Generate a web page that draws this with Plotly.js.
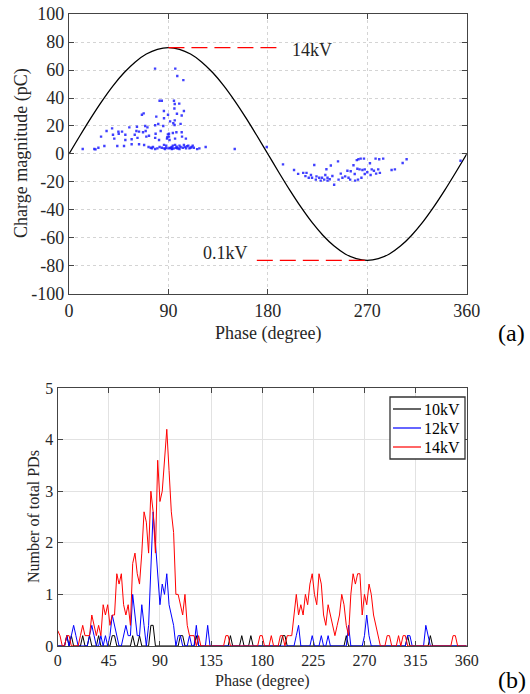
<!DOCTYPE html>
<html>
<head>
<meta charset="utf-8">
<script src="https://cdn.plot.ly/plotly-3.0.1.min.js"></script>
<style>html,body{margin:0;padding:0;background:#fff;}#chart{width:530px;height:694px;}</style>
</head>
<body>
<div id="chart"></div>
<script>
// ---------- (a) PRPD scatter ----------
var pdPhase = [12.4,22.9,24,26.6,29,32,34,39,39.8,41,43.7,44.7,45,48,49.8,51,51,54.6,56.7,56.7,59.5,61,61.5,62,63.4,63.4,66,67,67.6,68,69,69.4,70,71,72.4,74,76,77.9,78,78,78.4,79,80,80.8,81.5,82,83,84,84,85.3,85.9,86,86,88,89,89.6,90,90.5,90.5,91,91.5,92,93,94,94.4,95,95,95.4,95.6,95.7,95.7,96,96.2,97,97.2,97.7,98,99,99.8,100,101,102,102,102.3,103,103.5,104,105,105.8,107,109,111,113,116,118,123.7,150,179,72,75,78,82,86,87,88,93,94,96,98,100,101,104,106,108,110,112,88.7,89.5,91.5,93.5,97.5,
  193.7,203.7,207.4,212,214,215,217,220,222,223.4,226.5,227.8,231,233,234,234,237,238.4,240,243.5,244,247.5,253,254.5,255,257.5,258.6,260.5,261,261.6,262,263,264,264.7,265.6,267,267.7,267.7,272.4,274,277.5,279.9,280.8,281.4,284.4,292,295,302,305.6,354.4,219,224,229,232,236,246,250,252,259,270,273,276,278];
var pdCharge = [3.6,3.6,3.3,4.5,12.4,5.7,16.4,18.3,13.8,11,5.7,16,14.5,16,5.7,13.8,10,19,10.5,7,13.8,16.4,19.5,11.5,16,7,28,15.5,29,6.4,20,16.4,12.4,19,13,4.5,5,61,20.5,11.5,14.5,26.7,4,21.4,10,38,16.4,38,4.5,20,30.7,25.5,4,6,12,28,4,14.5,12.4,10,23.3,4.5,5,15,22,38,4,32.5,20.7,24,35.7,11,61,4.5,15.5,28.8,55.7,4,36,6,21.5,27.5,15.5,12.4,4.5,52.8,30.7,5,11,5.5,4,5,4.5,3.5,4,5,3.6,5,5,4,3.6,5,6.5,3.6,4.5,3.6,6,6.5,4,3.6,5,6.5,4,6,4.5,6,11,14,4.2,3.8,5.2,
  -7.4,-11.4,-14.2,-13.5,-15.8,-13.5,-17,-17,-7.9,-18.3,-17,-19,-18.3,-10.9,-19,-17,-8.2,-15.7,-22,-5.3,-18.3,-17,-17,-18.3,-12.3,-8,-14.3,-4.4,-10.5,-18.3,-3.7,-11,-3.3,-17,-11.4,-3.3,-11,-14.3,-6.6,-11,-3.3,-11,-3.7,-13.5,-3.3,-11.4,-11,-6.4,-3.8,-4.8,-15,-16,-17,-15,-18,-14,-16,-12,-19,-13,-15,-12,-14];

// applied voltage waveform
var wavePhase = [0,10,20,30,40,50,60,70,80,90,100,110,120,130,140,150,160,170,180,190,200,210,220,230,240,250,260,270,280,290,300,310,320,330,340,350,360];
var waveCharge = [0,13.2,26,38,48.9,58.2,65.8,71.4,74.8,76,74.8,71.4,65.8,58.2,48.9,38,26,13.2,0,-13.2,-26,-38,-48.9,-58.2,-65.8,-71.4,-74.8,-76,-74.8,-71.4,-65.8,-58.2,-48.9,-38,-26,-13.2,0];

// dashed reference levels
var peakLinePhase = [90,192];
var peakLineCharge = [76,76];
var troughLinePhase = [170,270];
var troughLineCharge = [-76,-76];

// tick labels
var phaseTicksA = [0, 90, 180, 270, 360];
var chargeTicks = [-100, -80, -60, -40, -20, 0, 20, 40, 60, 80, 100];
var chargeTickText = ['-100', '-80', '-60', '-40', '-20', '0', '20', '40', '60', '80', '100'];
var phaseTicksB = [0, 45, 90, 135, 180, 225, 270, 315, 360];
var countTicks = [0, 1, 2, 3, 4, 5];

// ---------- (b) PD count vs phase ----------
var binPhase = [];
for (var p = 0; p <= 360; p += 2) binPhase.push(p);

var pd10kV = [
0,0,0,0,0.2,0,0.2,0,0,0,      // 0-18
0,0.2,0,0,0.2,0,0,0,0.2,0,    // 20-38
0,0,0,0,0.2,0.2,0,0,0,0,      // 40-58
0,0,0,0.2,0,0,0.2,0,0,0,      // 60-78
0,0.4,0.4,0,0,0,0,0,0,0,      // 80-98
0,0,0,0,0.2,0.2,0,0,0,0,      // 100-118
0,0.2,0,0,0,0,0,0,0,0,        // 120-138
0,0,0,0,0,0,0.2,0,0,0,        // 140-158
0,0.2,0,0,0,0.2,0,0,0,0,      // 160-178
0,0,0,0,0,0,0,0,0,0.2,        // 180-198
0.2,0,0,0,0,0,0,0,0,0,        // 200-218
0,0,0,0,0,0,0,0,0,0,          // 220-238
0,0,0,0,0,0,0,0.2,0,0,        // 240-258
0,0,0,0,0,0,0,0,0,0,          // 260-278
0,0,0,0,0,0,0,0,0,0,          // 280-298
0,0,0,0,0.2,0,0,0,0,0,        // 300-318
0,0,0,0,0.2,0,0,0,0,0,        // 320-338
0,0,0,0,0,0,0,0,0,0,          // 340-358
0];
var pd12kV = [
0,0,0,0,0.2,0,0.2,0.4,0.2,0,  // 0-18
0,0,0,0,0.2,0.4,0.2,0,0,0.2,  // 20-38
0,0.2,0,0.2,0.6,0.4,0.2,0,0,0.2, // 40-58
0.4,0.2,0.2,1.0,0.6,0.2,0.2,0.8,0.4,0, // 60-78
0.4,1.6,2.6,2.0,1.4,0.8,1.2,1.0,1.4,0.8, // 80-98
0.6,0.4,0,0.2,0.2,0,0,0,0.2,0,  // 100-118
0,0.4,0,0,0,0,0.4,0,0,0,      // 120-138
0,0,0,0,0,0,0,0,0,0,          // 140-158
0,0,0,0,0,0,0,0,0,0,          // 160-178
0,0,0,0,0,0,0,0,0,0,          // 180-198
0,0,0,0,0,0.2,0.4,0,0,0,      // 200-218
0,0,0.2,0,0,0,0.2,0,0,0.2,    // 220-238
0,0,0,0,0,0,0,0,0.4,0,        // 240-258
0,0,0,0,0,0.2,0.6,0.2,0,0,    // 260-278
0,0,0,0,0,0,0,0,0,0,          // 280-298
0,0,0,0,0.2,0.2,0,0,0,0,      // 300-318
0,0,0.4,0.2,0,0,0,0,0,0,      // 320-338
0,0,0,0,0,0,0,0,0,0,          // 340-358
0];
var pd14kV = [
0.3,0.2,0,0,0.2,0.2,0,0,0,0,  // 0-18
0.2,0.4,0.2,0.2,0.2,0.6,0.4,0.2,0.4,0.2, // 20-38
0.8,0.6,0.8,0.4,0.6,0.6,1.4,1.2,1.4,0.8, // 40-58
0.6,0.8,0.4,1.6,1.8,1.4,1.2,1.8,2.6,2.4, // 60-78
1.8,3.0,2.6,1.8,3.6,2.8,3.0,3.6,4.2,3.4, // 80-98
2.6,2.2,1.0,1.0,0.8,0.6,1.0,0.4,0.2,0.2, // 100-118
0.2,0,0.2,0,0,0,0,0,0,0,      // 120-138
0,0,0,0,0.2,0.2,0,0,0,0,      // 140-158
0,0,0,0,0,0,0,0,0,0.2,        // 160-178
0.2,0,0,0,0.2,0,0,0,0.2,0.2,  // 180-198
0,0.2,0.2,0.2,0.6,1.0,0.6,0.8,0.6,1.0, // 200-218
0.8,1.2,1.4,1.0,0.8,1.4,1.2,0.6,0.4,0.8, // 220-238
0.6,0.4,0.2,0.4,0.6,1.0,0.8,0.4,0.2,1.0, // 240-258
1.4,1.2,1.4,1.4,0.6,1.0,0.8,1.2,1.0,0.6, // 260-278
0.4,0.2,0,0,0,0.2,0.2,0,0,0,  // 280-298
0.2,0,0.2,0.2,0,0,0,0,0,0,    // 300-318
0,0,0,0,0,0,0,0,0,0,          // 320-338
0,0,0,0,0.2,0.2,0,0,0,0,      // 340-358
0];

var seriesNames = ['10kV', '12kV', '14kV'];
var seriesColors = ['#000000', '#0000ff', '#ff0000'];

var serif = '"Liberation Serif", "Times New Roman", serif';
var txt = '#262626';

var traces = [
  {x: wavePhase, y: waveCharge, type: 'scatter', mode: 'lines', line: {color: '#000', width: 1.3, shape: 'spline', smoothing: 1}, xaxis: 'x', yaxis: 'y', showlegend: false},
  {x: peakLinePhase, y: peakLineCharge, type: 'scatter', mode: 'lines', line: {color: '#ff0000', width: 1.3, dash: '16px,7px'}, xaxis: 'x', yaxis: 'y', showlegend: false},
  {x: troughLinePhase, y: troughLineCharge, type: 'scatter', mode: 'lines', line: {color: '#ff0000', width: 1.3, dash: '16px,7px'}, xaxis: 'x', yaxis: 'y', showlegend: false},
  {x: pdPhase, y: pdCharge, type: 'scatter', mode: 'markers', marker: {symbol: 'square', size: 2.4, color: 'rgba(30,30,255,0.85)', line: {width: 0}}, xaxis: 'x', yaxis: 'y', showlegend: false},
  {x: binPhase, y: pd10kV, name: seriesNames[0], type: 'scatter', mode: 'lines', line: {color: seriesColors[0], width: 1}, xaxis: 'x2', yaxis: 'y2', showlegend: false},
  {x: binPhase, y: pd12kV, name: seriesNames[1], type: 'scatter', mode: 'lines', line: {color: seriesColors[1], width: 1}, xaxis: 'x2', yaxis: 'y2', showlegend: false},
  {x: binPhase, y: pd14kV, name: seriesNames[2], type: 'scatter', mode: 'lines', line: {color: seriesColors[2], width: 1}, xaxis: 'x2', yaxis: 'y2', showlegend: false}
];

function ax(extra) {
  var base = {
    showline: true, linecolor: '#444', linewidth: 1.2, mirror: 'ticks',
    ticks: 'inside', ticklen: 5, tickcolor: '#444', tickwidth: 1,
    showgrid: true, gridcolor: '#d4d4d4', gridwidth: 1, griddash: 'dot',
    zeroline: false, fixedrange: true
  };
  for (var k in extra) base[k] = extra[k];
  return base;
}

// paper-pixel helpers
var W = 530, H = 694;
function px(v) { return v / W; }
function py(v) { return 1 - v / H; }

// custom legend box
var shapes = [
  {type: 'rect', xref: 'paper', yref: 'paper', x0: px(390), x1: px(465), y0: py(459), y1: py(397), line: {color: '#333', width: 1.3}, fillcolor: '#fff', layer: 'above'}
];
var legendAnn = [];
var rowY = [409, 428, 447];
for (var i = 0; i < 3; i++) {
  shapes.push({type: 'line', xref: 'paper', yref: 'paper', x0: px(393), x1: px(421), y0: py(rowY[i]), y1: py(rowY[i]), line: {color: seriesColors[i], width: 1.2}, layer: 'above'});
  legendAnn.push({xref: 'paper', yref: 'paper', x: px(422), y: py(rowY[i]), text: seriesNames[i], showarrow: false, xanchor: 'left', yanchor: 'middle', font: {family: serif, size: 16, color: '#000'}});
}

function label(x, y, text, size, angle, color) {
  return {xref: 'paper', yref: 'paper', x: px(x), y: py(y), text: text, showarrow: false, xanchor: 'center', yanchor: 'middle', textangle: angle || 0, font: {family: serif, size: size, color: color || txt}};
}

var layout = {
  width: W, height: H,
  margin: {l: 0, r: 0, t: 0, b: 0},
  paper_bgcolor: '#fff', plot_bgcolor: '#fff',
  font: {family: serif, color: txt},
  showlegend: false,
  xaxis: ax({domain: [0.1302, 0.8806], range: [0, 360], tickvals: phaseTicksA, anchor: 'y',
    tickfont: {family: serif, size: 18, color: txt}}),
  yaxis: ax({domain: [0.5764, 0.9798], range: [-100, 100], tickvals: chargeTicks, ticktext: chargeTickText, anchor: 'x',
    tickfont: {family: serif, size: 18, color: txt}}),
  xaxis2: ax({domain: [0.1089, 0.8806], range: [0, 360], tickvals: phaseTicksB, anchor: 'y2',
    griddash: 'solid', gridcolor: '#e2e2e2',
    tickfont: {family: serif, size: 16, color: txt}}),
  yaxis2: ax({domain: [0.0692, 0.4409], range: [0, 5], tickvals: countTicks, anchor: 'x2',
    griddash: 'solid', gridcolor: '#e2e2e2',
    tickfont: {family: serif, size: 16, color: txt}}),
  shapes: shapes,
  annotations: [
    label(268, 333, 'Phase (degree)', 18),
    label(21, 153, 'Charge magnitude (pC)', 18, -90),
    label(262, 681, 'Phase (degree)', 16),
    label(33, 517, 'Number of total PDs', 16, -90),
    {xref: 'x', yref: 'y', x: 200, y: 74, text: '14kV', showarrow: false, xanchor: 'left', yanchor: 'middle', font: {family: serif, size: 18, color: txt}},
    {xref: 'x', yref: 'y', x: 164, y: -71, text: '0.1kV', showarrow: false, xanchor: 'right', yanchor: 'middle', font: {family: serif, size: 18, color: txt}},
    label(511, 333, '(a)', 24, 0, '#000'),
    label(512, 680, '(b)', 24, 0, '#000')
  ].concat(legendAnn)
};

Plotly.newPlot('chart', traces, layout, {displayModeBar: false, staticPlot: true});
</script>
</body>
</html>
